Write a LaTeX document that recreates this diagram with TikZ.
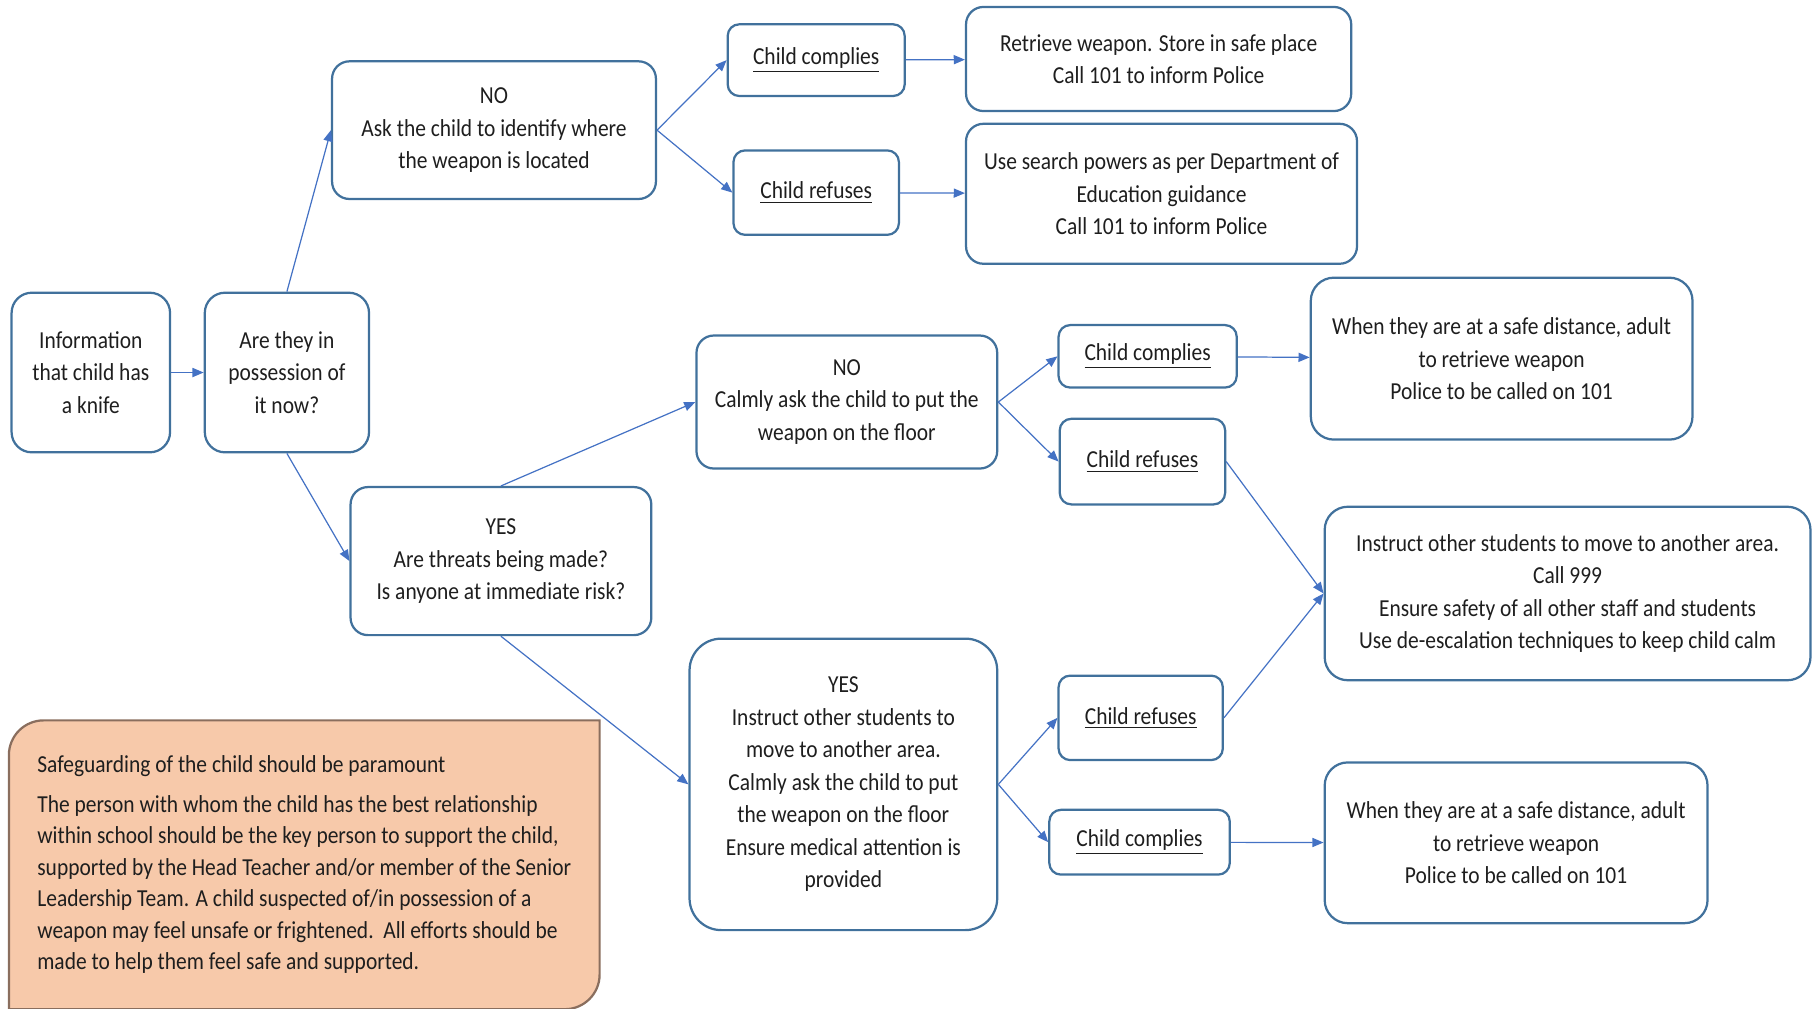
\documentclass[tikz,border=0pt]{standalone}
\usepackage{fontspec}
\setmainfont{Carlito}[FakeStretch=0.88]
\usetikzlibrary{arrows.meta,backgrounds}

\definecolor{boxline}{HTML}{41719C}
\definecolor{linkline}{HTML}{4472C4}
\definecolor{notefill}{HTML}{F7C9AA}
\definecolor{noteline}{HTML}{8A6E5E}
\definecolor{inkgray}{HTML}{1E1E1E}

\begin{document}
\begin{tikzpicture}[
    x=0.02cm, y=-0.02cm,
    font=\fontsize{12}{16}\selectfont,
    text=inkgray,
    cell/.style = {shape=rectangle, draw=boxline, line width=1.1pt, rounded corners=0.3cm, align=center, inner sep=2pt},
    choice/.style = {cell, rounded corners=0.2cm},
    link/.style = {-{Triangle[length=5.5pt, width=4.5pt]}, color=linkline, line width=0.6pt}
    ]
    \useasboundingbox (0,0) rectangle (1568,872);

    % First question
    \node[cell, minimum width=2.74cm, minimum height=2.76cm, rounded corners=0.35cm] (fc info)    at (78.5, 322) {Information\\that child has\\a knife};
    \node[cell, minimum width=2.84cm, minimum height=2.76cm, rounded corners=0.35cm] (fc possess) at (248,  322) {Are they in\\possession of\\it now?};

    % Not in possession
    \node[cell, minimum width=5.6cm,  minimum height=2.38cm] (fc no1)   at (427,    112.5) {NO\\Ask the child to identify where\\the weapon is located};
    \node[choice, minimum width=3.06cm, minimum height=1.24cm] (fc comp1) at (705.5, 52)    {\underline{Child complies}};
    \node[choice, minimum width=2.86cm, minimum height=1.46cm] (fc ref1)  at (705.5, 166.5) {\underline{Child refuses}};
    \node[cell, minimum width=6.66cm, minimum height=1.8cm]  (fc out1)  at (1001.5, 51)    {Retrieve weapon. Store in safe place\\Call 101 to inform Police};
    \node[cell, minimum width=6.76cm, minimum height=2.42cm] (fc out2)  at (1004,   167.5) {Use search powers as per Department of\\Education guidance\\Call 101 to inform Police};

    % In possession
    \node[cell, minimum width=5.2cm, minimum height=2.56cm] (fc yes1)  at (433,    485)   {YES\\Are threats being made?\\Is anyone at immediate risk?};
    \node[cell, minimum width=5.2cm, minimum height=2.3cm]  (fc no2)   at (732,    347.5) {NO\\Calmly ask the child to put the\\weapon on the floor};
    \node[choice, minimum width=3.08cm, minimum height=1.08cm] (fc comp2) at (992,  308) {\underline{Child complies}};
    \node[choice, minimum width=2.86cm, minimum height=1.48cm] (fc ref2)  at (987.5, 399) {\underline{Child refuses}};
    \node[cell, minimum width=6.6cm, minimum height=2.8cm, rounded corners=0.4cm] (fc out3) at (1298, 310) {When they are at a safe distance, adult\\to retrieve weapon\\Police to be called on 101};
    \node[cell, minimum width=8.4cm, minimum height=3cm, rounded corners=0.4cm]   (fc out4) at (1355, 513) {Instruct other students to move to another area.\\Call 999\\Ensure safety of all other staff and students\\Use de-escalation techniques to keep child calm};

    % Threats made
    \node[cell, minimum width=5.32cm, minimum height=5.04cm, rounded corners=0.55cm] (fc yes2) at (729, 678) {YES\\Instruct other students to\\move to another area.\\Calmly ask the child to put\\the weapon on the floor\\Ensure medical attention is\\provided};
    \node[choice, minimum width=2.84cm, minimum height=1.46cm] (fc ref3)  at (986, 620.5) {\underline{Child refuses}};
    \node[choice, minimum width=3.12cm, minimum height=1.12cm] (fc comp3) at (985, 728)   {\underline{Child complies}};
    \node[cell, minimum width=6.62cm, minimum height=2.78cm, rounded corners=0.4cm] (fc out5) at (1310.5, 728.5) {When they are at a safe distance, adult\\to retrieve weapon\\Police to be called on 101};

    % Safeguarding note
    \node[minimum width=10.2cm, minimum height=4.98cm, align=left, font=\fontsize{12}{15.5}\selectfont] (fc note) at (263, 747.5)
        {Safeguarding of the child should be paramount\\[4pt]
         The person with whom the child has the best relationship\\
         within school should be the key person to support the child,\\
         supported by the Head Teacher and/or member of the Senior\\
         Leadership Team. A child suspected of/in possession of a\\
         weapon may feel unsafe or frightened.\ \ All efforts should be\\
         made to help them feel safe and supported.};
    \begin{scope}[on background layer]
        \filldraw[fill=notefill, draw=noteline, line width=1.1pt]
            (fc note.south west) -- ([yshift=-0.6cm]fc note.north west)
            arc[start angle=180, end angle=90, radius=0.6cm] -- (fc note.north east)
            -- ([yshift=0.6cm]fc note.south east)
            arc[start angle=0, end angle=-90, radius=0.6cm] -- cycle;
    \end{scope}

    % Entry
    \path [link] (fc info) edge (fc possess);
    \path [link] (fc possess.north) edge (fc no1.west);
    \path [link] (fc possess.south) edge (fc yes1.west);

    % Not in possession
    \path [link] (fc no1.east) edge (fc comp1.west);
    \path [link] (fc no1.east) edge (fc ref1.west);
    \path [link] (fc comp1) edge (fc out1);
    \path [link] (fc ref1)  edge (fc out2);

    % In possession, no threats
    \path [link] (fc yes1.north) edge (fc no2.west);
    \path [link] (fc no2.east)   edge (fc comp2.west);
    \path [link] (fc no2.east)   edge (fc ref2.west);
    \path [link] (fc comp2)      edge (fc out3);
    \path [link] (fc ref2.east)  edge (fc out4.west);

    % In possession, threats made
    \path [link] (fc yes1.south) edge (fc yes2.west);
    \path [link] (fc yes2.east)  edge (fc ref3.west);
    \path [link] (fc yes2.east)  edge (fc comp3.west);
    \path [link] (fc ref3.east)  edge (fc out4.west);
    \path [link] (fc comp3)      edge (fc out5);
\end{tikzpicture}
\end{document}
